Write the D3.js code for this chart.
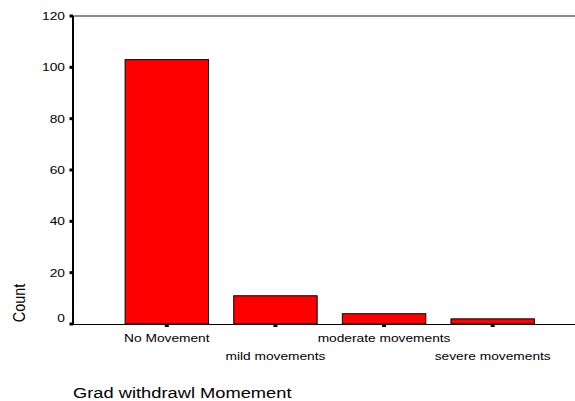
<!DOCTYPE html>
<html><head><meta charset="utf-8">
<script src="https://cdn.jsdelivr.net/npm/d3@7"></script>
<style>body{margin:0;background:#fff}svg{display:block}text{font-family:"Liberation Sans",Arial,sans-serif;fill:#000}</style>
</head><body>
<svg id="c" width="575" height="401"></svg>
<script>
const categories = ["No Movement", "mild movements", "moderate movements", "severe movements"];
const counts = [103, 11, 4, 2];
const yTicks = [0, 20, 40, 60, 80, 100, 120];
const xTitle = "Grad withdrawl Momement";
const yTitle = "Count";

(function () {
const svg = d3.select("#c");
const W = 575;
const pLeft = 73, pTop = 16, pBottom = 324;
const sx = 1.25;

const y = d3.scaleLinear().domain([0, 120]).range([pBottom, pTop]);
const x = d3.scaleBand().domain(categories).range([112.5, 547]).paddingInner(0.232).paddingOuter(0.116);

// top frame line
svg.append("line").attr("x1", pLeft).attr("x2", W).attr("y1", pTop).attr("y2", pTop)
  .attr("stroke", "#666").attr("stroke-width", 1.5);

// bars
svg.selectAll("rect.bar").data(counts).join("rect").attr("class", "bar")
  .attr("x", (d, i) => x(categories[i]))
  .attr("width", x.bandwidth())
  .attr("y", d => y(d))
  .attr("height", d => pBottom - y(d))
  .attr("fill", "#ff0000").attr("stroke", "#000").attr("stroke-width", 1);

// x axis line
svg.append("line").attr("x1", pLeft).attr("x2", W).attr("y1", pBottom + 0.5).attr("y2", pBottom + 0.5)
  .attr("stroke", "#000").attr("stroke-width", 1.2);
// y axis line
svg.append("line").attr("x1", pLeft).attr("x2", pLeft).attr("y1", pTop).attr("y2", pBottom + 1)
  .attr("stroke", "#000").attr("stroke-width", 2);

// y ticks
const yt = svg.append("g");
yTicks.forEach(t => {
  yt.append("line").attr("x1", pLeft - 3.5).attr("x2", pLeft).attr("y1", y(t)).attr("y2", y(t))
    .attr("stroke", "#000").attr("stroke-width", 3);
  const yy = y(t) + (t === 0 ? -6 : 0) + 4;
  yt.append("text").attr("transform", `translate(65,${yy}) scale(${sx},1)`)
    .attr("text-anchor", "end").attr("font-size", 11).text(t);
});

// x ticks + labels
categories.forEach((c, i) => {
  const cx = x(c) + x.bandwidth() / 2;
  svg.append("line").attr("x1", cx).attr("x2", cx).attr("y1", pBottom).attr("y2", pBottom + 3)
    .attr("stroke", "#000").attr("stroke-width", 4);
  const by = i % 2 === 0 ? 341.5 : 360;
  svg.append("text").attr("transform", `translate(${cx},${by}) scale(${sx},1)`)
    .attr("text-anchor", "middle").attr("font-size", 11).text(c);
});

// axis titles
svg.append("text").attr("transform", `translate(73,398) scale(1.22,1)`)
  .attr("font-size", 15).text(xTitle);
svg.append("text").attr("transform", `translate(24.5,303) rotate(-90) scale(1,1.15)`)
  .attr("text-anchor", "middle").attr("font-size", 14.5).text(yTitle);
})();
</script>
</body></html>
